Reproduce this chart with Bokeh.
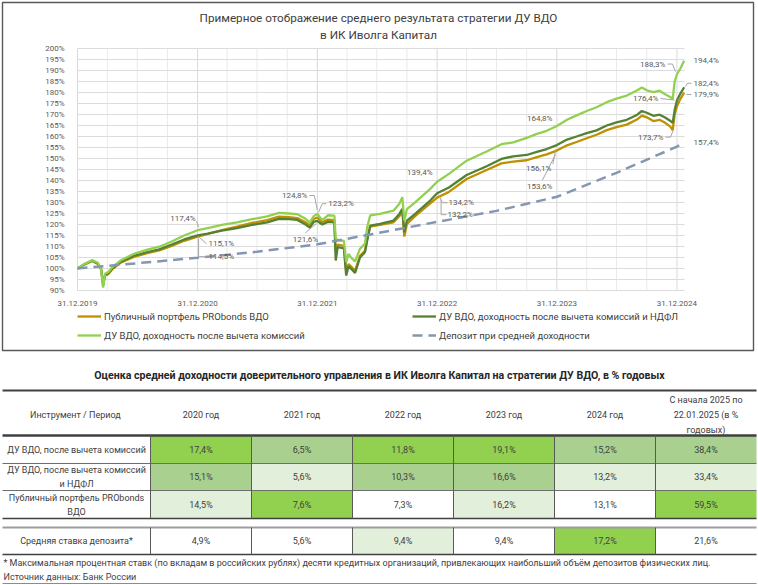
import pandas as pd
from bokeh.plotting import figure
from bokeh.models import (Range1d, FixedTicker, DatetimeTickFormatter, PrintfTickFormatter,
                          Label, Legend, LegendItem, DatetimeAxis, LinearAxis)
from bokeh.embed import file_html
from bokeh.resources import INLINE
from bokeh.core.properties import value

FONT = "Roboto"

# ---------------- data ----------------
dates = ["2019-12-31", "2020-01-20", "2020-02-14", "2020-03-02", "2020-03-12", "2020-03-18",
         "2020-03-24", "2020-04-03", "2020-04-15", "2020-05-10", "2020-06-20", "2020-07-31",
         "2020-09-05", "2020-10-15", "2020-11-20", "2020-12-31", "2021-01-31", "2021-03-15",
         "2021-04-30", "2021-06-15", "2021-07-31", "2021-09-05", "2021-10-05", "2021-10-31",
         "2021-11-25", "2021-12-08", "2021-12-20", "2021-12-31", "2022-01-15", "2022-02-01",
         "2022-02-21", "2022-02-25", "2022-03-03", "2022-03-22", "2022-03-29", "2022-04-05",
         "2022-04-15", "2022-04-25", "2022-05-10", "2022-05-25", "2022-06-01", "2022-06-10",
         "2022-07-10", "2022-08-20", "2022-09-07", "2022-09-16", "2022-09-22", "2022-09-30",
         "2022-10-25", "2022-12-10", "2022-12-31", "2023-02-05", "2023-03-31", "2023-05-31",
         "2023-07-15", "2023-08-20", "2023-09-30", "2023-10-31", "2023-11-30", "2023-12-31",
         "2024-01-31", "2024-02-29", "2024-03-31", "2024-04-30", "2024-05-31", "2024-06-30",
         "2024-07-31", "2024-08-31", "2024-09-15", "2024-09-30", "2024-10-20", "2024-11-08",
         "2024-11-25", "2024-12-10", "2024-12-18", "2024-12-24", "2024-12-31", "2025-01-10",
         "2025-01-22"]

du_vdo = [100.0, 102.0, 103.8, 102.6, 99.5, 91.3,
          97.6, 98.4, 100.6, 103.6, 106.7, 108.6,
          109.9, 112.4, 115.0, 117.4, 118.3, 119.8,
          121.0, 122.4, 123.7, 125.3, 125.0, 124.7,
          122.6, 121.0, 123.8, 124.8, 122.0, 124.2,
          124.0, 113.5, 113.0, 112.5, 102.9, 106.6,
          104.6, 103.2, 109.0, 111.3, 118.8, 124.1,
          124.8, 126.3, 129.4, 132.4, 121.8, 127.0,
          130.1, 136.2, 139.4, 143.0, 149.0, 153.2,
          156.5, 157.3, 159.4, 161.2, 162.6, 164.8,
          167.6, 169.6, 171.6, 173.3, 175.6, 177.2,
          178.6, 180.9, 182.3, 181.0, 180.2, 180.8,
          179.2, 178.0, 177.0, 185.0, 188.3, 190.8,
          194.4]

du_vdo_ndfl = [100.0, 101.8, 103.5, 102.3, 99.6, 92.4,
               97.0, 97.8, 100.0, 103.0, 105.8, 107.5,
               108.7, 111.0, 113.2, 115.1, 115.9, 117.2,
               118.4, 119.8, 121.0, 122.6, 122.4, 122.1,
               120.0, 118.6, 121.2, 121.6, 120.0, 121.2,
               121.0, 103.6, 109.7, 109.2, 96.8, 101.0,
               99.6, 98.0, 105.0, 107.4, 112.7, 119.5,
               120.3, 121.8, 124.8, 127.1, 116.5, 121.8,
               124.8, 130.9, 134.2, 136.8, 142.5, 146.5,
               149.8, 151.0, 151.6, 153.0, 154.3, 156.1,
               158.6, 160.0, 161.5, 162.8, 165.0, 166.4,
               167.6, 169.8, 171.6, 170.8, 169.4, 169.9,
               168.6, 167.2, 166.2, 172.0, 176.4, 179.4,
               182.4]

probonds = [100.0, 101.7, 103.4, 102.1, 99.8, 93.0,
            96.7, 97.5, 99.7, 102.6, 105.3, 107.0,
            108.2, 110.4, 112.6, 114.5, 115.7, 117.5,
            119.0, 120.7, 122.0, 123.6, 123.3, 122.9,
            121.0, 119.6, 122.5, 123.2, 121.0, 122.2,
            122.0, 107.5, 110.8, 110.3, 98.3, 102.0,
            100.6, 99.0, 105.8, 108.0, 113.5, 119.0,
            119.8, 121.0, 123.8, 126.0, 114.5, 120.3,
            123.8, 129.6, 132.2, 134.8, 140.7, 144.8,
            147.8, 148.6, 149.2, 150.6, 151.9, 153.6,
            156.0, 157.5, 159.2, 160.8, 162.9, 164.3,
            165.4, 167.7, 169.5, 168.7, 167.0, 167.6,
            166.2, 164.6, 162.9, 170.0, 173.7, 177.0,
            179.9]

deposit_dates = ["2019-12-31", "2020-06-30", "2020-12-31", "2021-06-30", "2021-12-31",
                 "2022-06-30", "2022-12-31", "2023-06-30", "2023-12-31", "2024-06-30",
                 "2024-12-31", "2025-01-22"]
deposit = [100.0, 102.4, 104.9, 107.6, 111.0, 116.0, 121.2, 126.2, 132.6, 143.5, 155.4, 157.4]

year_ticks = ["2019-12-31", "2020-12-31", "2021-12-31", "2022-12-31", "2023-12-31", "2024-12-31"]
y_ticks = [90, 95, 100, 105, 110, 115, 120, 125, 130, 135, 140, 145, 150, 155, 160, 165, 170,
           175, 180, 185, 190, 195, 200]

name_pro = "Публичный портфель PRObonds ВДО"
name_ndfl = "ДУ ВДО, доходность после вычета комиссий и НДФЛ"
name_du = "ДУ ВДО, доходность после вычета комиссий"
name_dep = "Депозит при средней доходности"
title1 = "Примерное отображение среднего результата стратегии ДУ ВДО"
title2 = "в ИК Иволга Капитал"

# table data
table_title = ("Оценка средней доходности доверительного управления в ИК Иволга Капитал "
               "на стратегии ДУ ВДО, в % годовых")
head_first = "Инструмент  / Период"
periods = ["2020 год", "2021 год", "2022 год", "2023 год", "2024 год",
           "С начала 2025 по\n22.01.2025 (в %\nгодовых)"]
row_names = ["ДУ ВДО, после вычета комиссий",
             "ДУ ВДО, после вычета комиссий\nи НДФЛ",
             "Публичный портфель PRObonds\nВДО",
             "Средняя ставка депозита*"]
row_du = [17.4, 6.5, 11.8, 19.1, 15.2, 38.4]
row_ndfl = [15.1, 5.6, 10.3, 16.6, 13.2, 33.4]
row_pro = [14.5, 7.6, 7.3, 16.2, 13.1, 59.5]
row_dep = [4.9, 5.6, 9.4, 9.4, 17.2, 21.6]
footnote1 = ("* Максимальная процентная ставк (по вкладам в российских рублях) десяти кредитных "
             "организаций, привлекающих наибольший объём депозитов физических лиц.")
footnote2 = "Источник данных: Банк России"

# ---------------- styles ----------------
GOLD = "#BF9000"
DARK = "#548235"
LIGHT = "#92D050"
DEP = "#8497B0"
TXT = "#404040"
LBL = "#595959"


def ms(d):
    return pd.Timestamp(d).value / 1e6


def fmt(v):
    return f"{v:.1f}%".replace(".", ",")


# ---------------- canvas / scales ----------------
W, H = 758, 585
DL, DR, DT, DB = 77, 684, 48, 290          # plot area inside the canvas (px)
X0, X1 = ms("2019-12-31"), ms("2025-01-23")
Y0, Y1 = 90, 200
ms_pp = (X1 - X0) / (DR - DL)
pc_pp = (Y1 - Y0) / (DB - DT)

p = figure(width=W, height=H, min_border=0,
           x_range=Range1d(X0 - DL * ms_pp, X1 + (W - DR) * ms_pp),
           y_range=Range1d(Y0 - (H - DB) * pc_pp, Y1 + DT * pc_pp),
           x_axis_location=None, y_axis_location=None,
           output_backend="svg", toolbar_location=None)
p.outline_line_color = None
p.xgrid.visible = False
p.ygrid.visible = False
p.extra_x_ranges = {"px": Range1d(0, W)}
p.extra_y_ranges = {"py": Range1d(H, 0)}

# grid lines of the plot area
quarter_ticks = []
for y in range(2020, 2025):
    for md in ("-03-31", "-06-30", "-09-30"):
        quarter_ticks.append(ms(f"{y}{md}"))
yt_ms = [ms(d) for d in year_ticks]
p.segment(x0=quarter_ticks, y0=[Y0] * len(quarter_ticks), x1=quarter_ticks,
          y1=[Y1] * len(quarter_ticks), line_color="#EAEAEA", line_width=1)
p.segment(x0=yt_ms, y0=[Y0] * len(yt_ms), x1=yt_ms, y1=[Y1] * len(yt_ms),
          line_color="#D9D9D9", line_width=1)
p.segment(x0=[X0] * len(y_ticks), y0=y_ticks, x1=[X1] * len(y_ticks), y1=y_ticks,
          line_color="#DCDCDC", line_width=1)

# axes
xaxis = DatetimeAxis(fixed_location=Y0, ticker=FixedTicker(ticks=yt_ms),
                     formatter=DatetimeTickFormatter(days="%d.%m.%Y", months="%d.%m.%Y",
                                                     years="%d.%m.%Y"))
yaxis = LinearAxis(fixed_location=X0, ticker=FixedTicker(ticks=y_ticks),
                   formatter=PrintfTickFormatter(format="%d%%"))
for ax in (xaxis, yaxis):
    ax.axis_line_color = None
    ax.major_tick_line_color = None
    ax.minor_tick_line_color = None
    ax.major_label_text_font = FONT
    ax.major_label_text_font_size = "8px"
    ax.major_label_text_color = LBL
yaxis.major_label_standoff = 7
xaxis.major_label_standoff = 4
p.add_layout(xaxis, "below")
p.add_layout(yaxis, "left")

# series
xs = [ms(d) for d in dates]
xd = [ms(d) for d in deposit_dates]
r_pro = p.line(xs, probonds, line_color=GOLD, line_width=2.3)
r_ndfl = p.line(xs, du_vdo_ndfl, line_color=DARK, line_width=2.3)
r_du = p.line(xs, du_vdo, line_color=LIGHT, line_width=2.3)
r_dep = p.line(xd, deposit, line_color=DEP, line_width=2.5, line_dash="10 6")

# data labels
series = {"du": (dates, du_vdo), "ndfl": (dates, du_vdo_ndfl), "pro": (dates, probonds),
          "dep": (deposit_dates, deposit)}
specs = [
    ("du", "2020-12-31", "right", -2, -12, [(-1, -9), (1, -3)]),
    ("ndfl", "2020-12-31", "left", 11, 8.5, [(1, 1.5), (9, 8.5)]),
    ("pro", "2020-12-31", "left", 11, 20, [(1, 2), (1, 20), (9, 20)]),
    ("du", "2021-12-31", "right", -10, -18.4, [(-8, -18.4), (-3, -18.4), (0, -4)]),
    ("pro", "2021-12-31", "left", 11, -13.7, [(9, -13.7), (5, -13.7), (1, -5)]),
    ("ndfl", "2021-12-31", "center", -12, 19, [(-12, 12), (-1, 2.5)]),
    ("du", "2022-12-31", "right", -4.6, -9.6, []),
    ("ndfl", "2022-12-31", "left", 11.4, 9.5, [(1.4, 1.2), (5.4, 9.5), (10.4, 9.5)]),
    ("pro", "2022-12-31", "left", 10.4, 17, [(4, 2), (4, 17), (9.4, 17)]),
    ("du", "2023-12-31", "right", -4.4, -7, []),
    ("ndfl", "2023-12-31", "right", -5.4, 23, [(-4, 19), (-1, 4)]),
    ("pro", "2023-12-31", "right", -4.4, 35.6, [(-14.4, 29.5), (-1.4, 4)]),
    ("du", "2024-12-31", "right", -11.5, -9.7, [(-9.5, -10.2), (-4.5, -10.2), (-1.5, -2.7)]),
    ("ndfl", "2024-12-31", "right", -18.5, -1.6, [(-16.5, -1.9), (-2.5, -0.4)]),
    ("pro", "2024-12-31", "right", -13.5, 30.8, [(-11.5, 30.8), (-6.5, 30.8), (-3.5, 23.5)]),
    ("du", "2025-01-22", "left", 9.3, 0, []),
    ("ndfl", "2025-01-22", "left", 9.3, -4, [(7.3, -4), (3.3, -4), (1.3, -0.7)]),
    ("pro", "2025-01-22", "left", 9.3, 1.8, [(7.3, 1.8), (2.3, 1.8)]),
    ("dep", "2025-01-22", "left", 9.3, 0, []),
]
lead_xs, lead_ys = [], []
for key, d, align, dx, dy, lead in specs:
    sd, sv = series[key]
    v = sv[sd.index(d)]
    ax_ = ms(d)
    p.add_layout(Label(x=ax_, y=v, x_offset=dx, y_offset=-dy, text=fmt(v),
                       text_align=align, text_baseline="middle", text_font=FONT,
                       text_font_size="8px", text_color=LBL))
    if lead:
        lead_xs.append([ax_ + ox * ms_pp for ox, oy in lead])
        lead_ys.append([v - oy * pc_pp for ox, oy in lead])
p.multi_line(lead_xs, lead_ys, line_color="#A6A6A6", line_width=1)

# chart frame and title (pixel coordinates)
p.quad(left=[2], right=[753], top=[2], bottom=[350], x_range_name="px",
       y_range_name="py", fill_color=None, line_color="#595959", line_width=1.4)
p.text(x=[378, 378], y=[17, 34], text=[title1, title2], x_range_name="px", y_range_name="py",
       text_align="center", text_baseline="middle", text_font=value(FONT),
       text_font_size="11.7px", text_color=TXT)

# legends
for r, name, lx, ly in ((r_pro, name_pro, DL, H - 322), (r_ndfl, name_ndfl, 412, H - 322),
                        (r_du, name_du, DL, H - 341), (r_dep, name_dep, 412, H - 341)):
    lg = Legend(items=[LegendItem(label=name, renderers=[r])], location=(lx, ly),
                orientation="horizontal", padding=0, margin=0, spacing=0,
                glyph_width=24, glyph_height=12, label_height=12, label_standoff=3,
                border_line_color=None, background_fill_alpha=0,
                label_text_font=FONT, label_text_font_size="9.5px", label_text_color=TXT)
    p.add_layout(lg, "center")

# ---------------- table (pixel coordinates) ----------------
TY = 350
TL, TR = 2, 756
C0 = 150
CW = (TR - C0) / 6
col_l = [C0 + i * CW for i in range(6)]
col_c = [C0 + (i + 0.5) * CW for i in range(6)]
row_top = [TY + 85, TY + 113, TY + 140, TY + 177]
row_bot = [TY + 113, TY + 140, TY + 168, TY + 204]
row_c = [(a + b) / 2 for a, b in zip(row_top, row_bot)]
table = [row_du, row_ndfl, row_pro, row_dep]
shades = ["#92D050", "#A9D08E", "#E2EFDA", "#FFFFFF"]

ql, qr, qt, qb, qc = [], [], [], [], []
for j in range(6):
    colvals = [table[i][j] for i in range(4)]
    order = sorted(range(4), key=lambda i: (-colvals[i], i))
    for rank, i in enumerate(order):
        ql.append(col_l[j]); qr.append(col_l[j] + CW)
        qt.append(row_top[i]); qb.append(row_bot[i]); qc.append(shades[rank])
p.quad(left=ql, right=qr, top=qt, bottom=qb, fill_color=qc, line_color=None,
       x_range_name="px", y_range_name="py")

hl = [(TY + 40, "#404040", 2), (TY + 85, "#404040", 2.5), (TY + 113, "#6E6E6E", 1),
      (TY + 140, "#6E6E6E", 1), (TY + 168, "#404040", 1.5), (TY + 177, "#9E9E9E", 1.8),
      (TY + 204, "#404040", 1.3), (TY + 233, "#8C8C8C", 1)]
for yy, c, w in hl:
    p.segment(x0=[TL], y0=[yy], x1=[TR], y1=[yy], line_color=c, line_width=w,
              x_range_name="px", y_range_name="py")
vx0 = [C0 + i * CW for i in range(6)]
for a, b in ((TY + 85, TY + 168), (TY + 177, TY + 204)):
    p.segment(x0=vx0, y0=[a] * 6, x1=vx0, y1=[b] * 6, line_color="#595959", line_width=1,
              x_range_name="px", y_range_name="py")

tx, ty, tt = [], [], []
tx.append((TL + C0) / 2); ty.append(TY + 64); tt.append(head_first)
for j, ptxt in enumerate(periods):
    lines = ptxt.split("\n")
    n = len(lines)
    for k, ln in enumerate(lines):
        tx.append(col_c[j]); ty.append(TY + 64 + (k - (n - 1) / 2) * 15); tt.append(ln)
for i, nm in enumerate(row_names):
    lines = nm.split("\n")
    n = len(lines)
    for k, ln in enumerate(lines):
        tx.append((TL + C0) / 2); ty.append(row_c[i] + (k - (n - 1) / 2) * 14); tt.append(ln)
for i in range(4):
    for j in range(6):
        tx.append(col_c[j]); ty.append(row_c[i]); tt.append(fmt(table[i][j]))
p.text(x=tx, y=ty, text=tt, text_align="center", text_baseline="middle",
       text_font=value(FONT), text_font_size="9px", text_color=TXT,
       x_range_name="px", y_range_name="py")
p.text(x=[379], y=[TY + 25], text=[table_title], text_align="center", text_baseline="middle",
       text_font=value(FONT), text_font_size="10.6px", text_font_style="bold",
       text_color="#262626", x_range_name="px", y_range_name="py")
p.text(x=[3, 3], y=[TY + 212, TY + 226.5], text=[footnote1, footnote2], text_align="left",
       text_baseline="middle", text_font=value(FONT), text_font_size="9px", text_color=TXT,
       x_range_name="px", y_range_name="py")

open("out.html", "w").write(file_html(p, INLINE))
